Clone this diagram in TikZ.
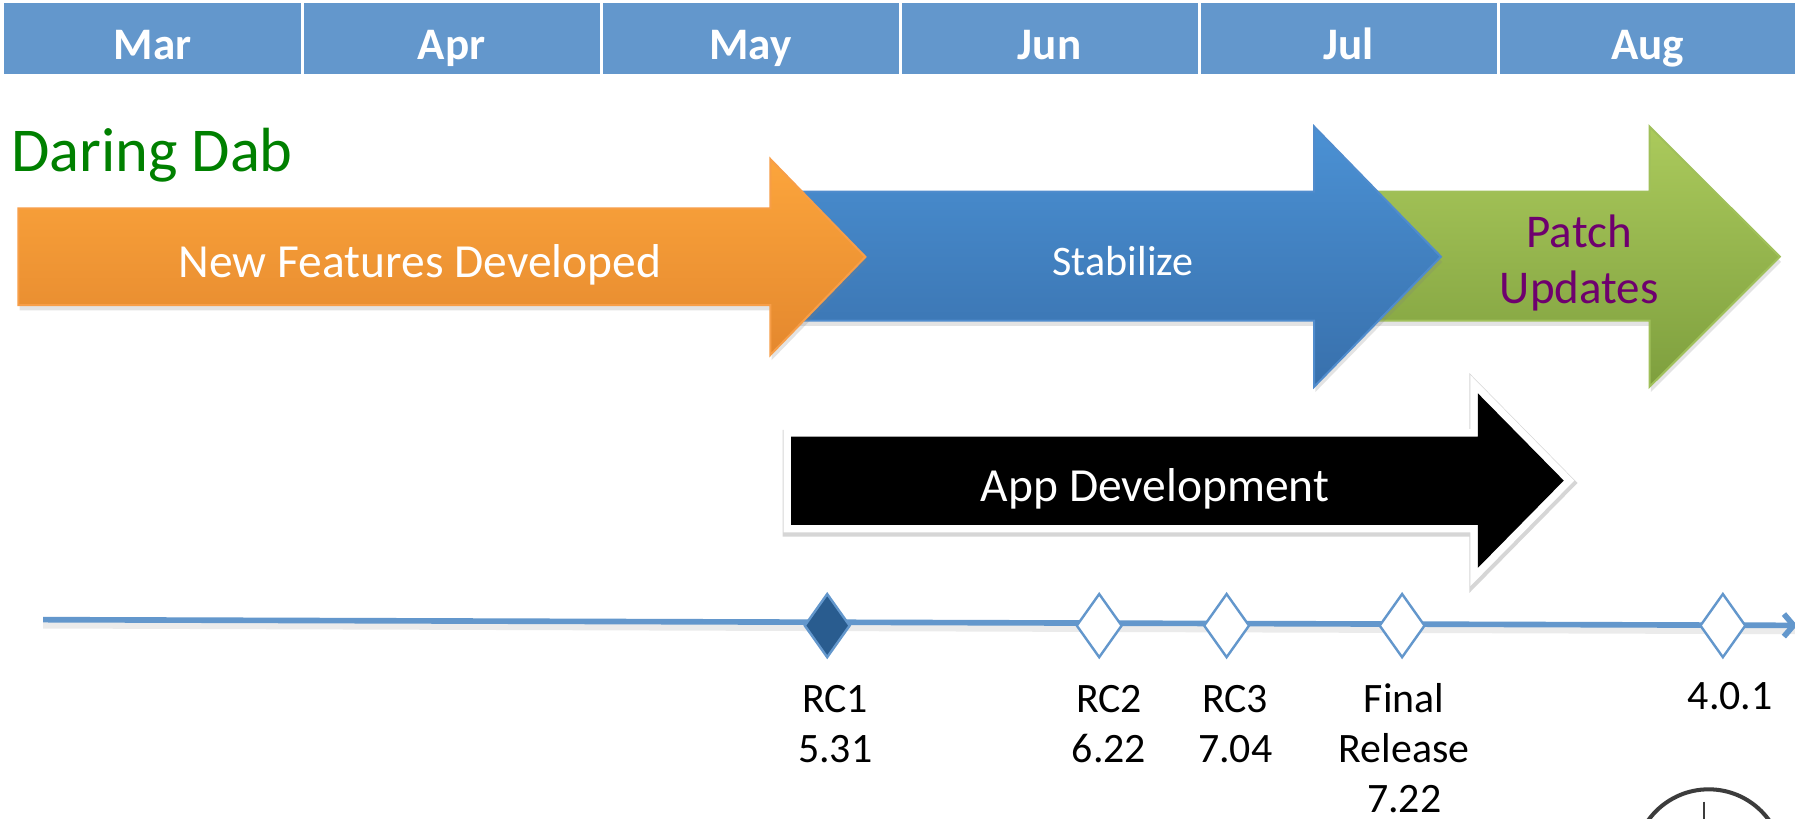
\documentclass[tikz,border=0pt]{standalone}
\usepackage{fontspec}
\setmainfont{Carlito}
\usetikzlibrary{shapes.geometric,shadows,arrows.meta}
\definecolor{hdr}{RGB}{99,151,204}
\definecolor{orT}{RGB}{252,165,60}
\definecolor{orB}{RGB}{228,136,46}
\definecolor{orE}{RGB}{247,158,72}
\definecolor{blT}{RGB}{75,145,212}
\definecolor{blB}{RGB}{56,112,172}
\definecolor{blE}{RGB}{80,140,205}
\definecolor{grT}{RGB}{171,202,92}
\definecolor{grB}{RGB}{126,159,62}
\definecolor{grE}{RGB}{160,192,90}
\definecolor{ptxt}{RGB}{110,0,110}
\definecolor{ttl}{RGB}{0,128,0}
\definecolor{dmd}{RGB}{41,92,143}
\definecolor{tl}{RGB}{99,151,204}
\definecolor{clkc}{RGB}{60,60,60}
\begin{document}
\begin{tikzpicture}[x=0.01cm,y=-0.01cm,
  month/.style={fill=hdr, text=white, font=\fontsize{11.2}{13}\selectfont\bfseries,
    minimum width=2.585cm, minimum height=0.627cm, inner sep=0pt,
    text height=0.363cm, text depth=0pt},
  ttlstyle/.style={text=ttl, font=\fontsize{15.5}{18}\selectfont, inner sep=0pt, anchor=base west},
  wtext/.style={text=white, font=\fontsize{11.8}{14}\selectfont, inner sep=0pt, anchor=base},
  stabtext/.style={text=white, font=\fontsize{10.45}{12.5}\selectfont, inner sep=0pt, anchor=base},
  ptext/.style={text=ptxt, font=\fontsize{11.67}{14}\selectfont, inner sep=0pt, anchor=base},
  lbl/.style={text=black, font=\fontsize{10.4}{12.5}\selectfont, inner sep=0pt, anchor=base},
  bigarrow/.style={drop shadow={shadow xshift=0.3pt, shadow yshift=-1.3pt, opacity=0.22}, line width=0.5pt, line join=miter},
  ms/.style={diamond, draw=tl, line width=0.6pt, fill=white, inner sep=0pt,
    minimum width=0.40cm, minimum height=0.56cm},
  tline/.style={draw=tl, line width=1.4pt},
  clk/.style={draw=clkc, line width=1pt}
]
\useasboundingbox (0,0) rectangle (1568,715);
\clip (0,0) rectangle (1568,715);
\fill[white] (0,0) rectangle (1568,715);

% header
\node[month] (mar) at (133.25,33.65) {Mar};
\node[month] (apr) at (394.45,33.65) {Apr};
\node[month] (may) at (655.65,33.65) {May};
\node[month] (jun) at (916.85,33.65) {Jun};
\node[month] (jul) at (1178.05,33.65) {Jul};
\node[month] (aug) at (1439.25,33.65) {Aug};

% title
\node[ttlstyle] (title) at (9,149.5) {Daring Dab};

% phase arrows
\path[bigarrow, draw=grE, top color=grT, bottom color=grB]
  (1200,167.4) -- (1441,167.4) -- (1441,110.6) -- (1554.7,224.2) -- (1441,337.8) -- (1441,280) -- (1200,280) -- cycle;
\path[bigarrow, draw=blE, top color=blT, bottom color=blB]
  (690,167.4) -- (1148,167.4) -- (1148,110.6) -- (1258.7,224.2) -- (1148,337.8) -- (1148,280) -- (690,280) -- cycle;
\path[bigarrow, draw=orE, top color=orT, bottom color=orB]
  (16,182) -- (673,182) -- (673,139) -- (756,224.4) -- (673,310) -- (673,266.5) -- (16,266.5) -- cycle;

\node[wtext] (nfd) at (366.8,242) {New Features Developed};
\node[stabtext] (stab) at (981,241) {Stabilize};
\node[ptext] (patch) at (1379.5,216.5) {Patch};
\node[ptext] (upd) at (1379.5,265.5) {Updates};

% app development arrow
\path[line join=miter,
  preaction={draw=black, draw opacity=0.16, line width=4.6pt, transform canvas={xshift=0.2pt,yshift=-0.6pt}},
  preaction={draw=white, line width=3.7pt},
  fill=black]
  (691,381.4) -- (1291,381.4) -- (1291,343.6) -- (1366,419.8) -- (1291,496) -- (1291,458.6) -- (691,458.6) -- cycle;
\node[wtext] (app) at (1009,438.5) {App Development};

% timeline
\coordinate (tl0) at (37.6,541.3);
\coordinate (tl1) at (1570,546.3);
\draw[draw=black, draw opacity=0.08, line width=1.8pt, transform canvas={yshift=-1.3pt}] (tl0) -- (tl1);
\draw[tline, -{Straight Barb[length=2.4pt,width=5.6pt]}] (tl0) -- (tl1);

\node[ms, fill=dmd] (rc1) at (722.6,546.5) {};
\node[ms] (rc2) at (960.2,546.5) {};
\node[ms] (rc3) at (1071.5,546.5) {};
\node[ms] (fin) at (1224.8,546.5) {};
\node[ms] (v401) at (1505,546.5) {};

\node[lbl] (rc1a) at (729.6,622) {RC1};
\node[lbl] (rc1b) at (729.6,666) {5.31};
\node[lbl] (rc2a) at (968.8,622) {RC2};
\node[lbl] (rc2b) at (968.8,666) {6.22};
\node[lbl] (rc3a) at (1079,622) {RC3};
\node[lbl] (rc3b) at (1079,666) {7.04};
\node[lbl] (fina) at (1226.6,622) {Final};
\node[lbl] (finb) at (1226.6,666) {Release};
\node[lbl] (finc) at (1226.6,710) {7.22};
\node[lbl] (v401a) at (1511.4,620) {4.0.1};

% clock icon (partly visible)
\draw[clk] (1492.6,754.5) circle[radius=65];
\draw[clk, line width=0.6pt] (1488.4,700.3) -- (1488.4,745);
\end{tikzpicture}
\end{document}
